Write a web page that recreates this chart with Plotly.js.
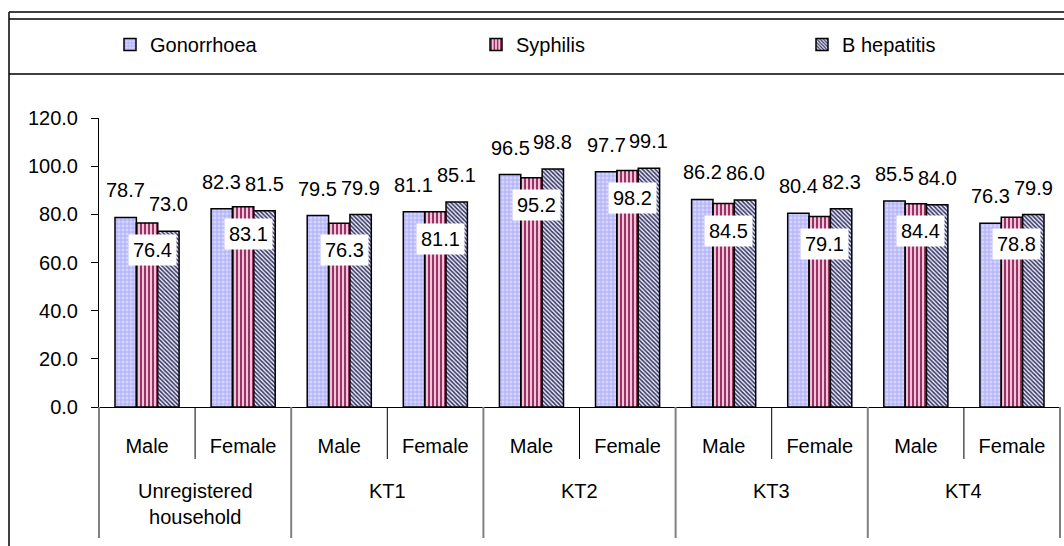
<!DOCTYPE html>
<html><head><meta charset="utf-8">
<script src="https://cdn.plot.ly/plotly-3.0.1.min.js"></script>
<style>html,body{margin:0;padding:0;background:#fff;} #chart{width:1064px;height:546px;}</style>
</head><body><div id="chart"></div>
<script>
// ---- data ----
const subLabels = ['Male','Female','Male','Female','Male','Female','Male','Female','Male','Female'];
const groupLabels = ['Unregistered<br>household','KT1','KT2','KT3','KT4'];
const seriesNames = ['Gonorrhoea','Syphilis','B hepatitis'];
const gonorrhoea = [78.7, 82.3, 79.5, 81.1, 96.5, 97.7, 86.2, 80.4, 85.5, 76.3];
const syphilis   = [76.4, 83.1, 76.3, 81.1, 95.2, 98.2, 84.5, 79.1, 84.4, 78.8];
const bHepatitis = [73.0, 81.5, 79.9, 85.1, 98.8, 99.1, 86.0, 82.3, 84.0, 79.9];
const yTickVals = [0, 20, 40, 60, 80, 100, 120];

// ---- layout geometry ----
const W = 1064, H = 546, ML = 99, MR = 4, MT = 118, MB = 139;
const PW = W - ML - MR, PH = H - MT - MB;
const px2x = px => (px - ML) / PW;
const py2y = py => (H - MB - py) / PH;
const FONT = 'Liberation Sans, Arial, sans-serif';
const bargap = 0.333;
const bw = (1 - bargap) / 3;

const seriesVals = [gonorrhoea, syphilis, bHepatitis];
const styles = [
  {bg: '#d4d4ff', fg: '#9c9cf4', shape: '+', size: 4, sol: 0.3},
  {bg: '#f0c4d8', fg: '#993366', shape: '|', size: 4, sol: 0.5},
  {bg: '#ececf4', fg: '#333366', shape: '\\', size: 3, sol: 0.5}
];
const xIdx = subLabels.map((_, i) => i);

const traces = seriesVals.map((vals, k) => ({
  type: 'bar', name: seriesNames[k], x: xIdx, y: vals,
  legend: k === 0 ? 'legend' : 'legend' + (k + 1),
  marker: {
    color: styles[k].bg,
    line: {color: '#000', width: 1.5},
    pattern: {shape: styles[k].shape, fgcolor: styles[k].fg, bgcolor: styles[k].bg,
              size: styles[k].size, solidity: styles[k].sol}
  },
  hoverinfo: 'skip'
}));

// ---- value labels ----
const annotations = [];
const offsets = [-bw, 0, bw];
seriesVals.forEach((vals, k) => {
  vals.forEach((v, i) => {
    if (k === 1) {
      annotations.push({x: i + offsets[k], y: v, xref: 'x', yref: 'y', text: v.toFixed(1),
        showarrow: false, yanchor: 'top', xanchor: 'center', yshift: -11, xshift: 5,
        bgcolor: '#ffffff', borderpad: 4, font: {size: 20, color: '#000', family: FONT}});
    } else {
      annotations.push({x: i + offsets[k], y: v, xref: 'x', yref: 'y', text: v.toFixed(1),
        showarrow: false, yanchor: 'bottom', xanchor: 'center', yshift: 14,
        font: {size: 20, color: '#000', family: FONT}});
    }
  });
});
// group labels
groupLabels.forEach((g, j) => {
  annotations.push({x: 2 * j + 0.5, y: 0, xref: 'x', yref: 'paper', text: g, showarrow: false,
    yanchor: 'top', xanchor: 'center', yshift: -71, align: 'center',
    font: {size: 20, color: '#000', family: FONT}});
});

// ---- shapes: frame and dividers ----
const shapes = [];
const hline = (py, w) => ({type: 'line', xref: 'paper', yref: 'paper',
  x0: px2x(9), x1: px2x(W + 2), y0: py2y(py), y1: py2y(py), line: {color: '#000', width: w}});
shapes.push(hline(12, 1.5), hline(19, 1.5), hline(74, 1.5));
shapes.push({type: 'line', xref: 'paper', yref: 'paper', x0: px2x(9), x1: px2x(9),
  y0: py2y(12), y1: py2y(H + 2), line: {color: '#000', width: 1.5}});
// sub-category separators
for (let i = 0; i < subLabels.length - 1; i += 2) {
  shapes.push({type: 'line', xref: 'x', yref: 'paper', x0: i + 0.5, x1: i + 0.5,
    y0: 0, y1: py2y(459), line: {color: '#000', width: 1}});
}
// group separators
for (let i = 1; i < subLabels.length - 1; i += 2) {
  shapes.push({type: 'line', xref: 'x', yref: 'paper', x0: i + 0.5, x1: i + 0.5,
    y0: 0, y1: py2y(538), line: {color: '#808080', width: 2}});
}
[0, 1].forEach(xp => shapes.push({type: 'line', xref: 'paper', yref: 'paper', x0: xp, x1: xp,
  y0: 0, y1: py2y(538), line: {color: '#808080', width: 2}}));

const legendBase = {orientation: 'h', xref: 'container', yref: 'container', xanchor: 'left',
  yanchor: 'middle', y: 1 - 44.5 / H, bgcolor: 'rgba(0,0,0,0)', borderwidth: 0,
  font: {size: 20, color: '#000', family: FONT}};

const layout = {
  width: W, height: H,
  margin: {l: ML, r: MR, t: MT, b: MB, pad: 0},
  paper_bgcolor: '#fff', plot_bgcolor: '#fff',
  font: {family: FONT, size: 20, color: '#000'},
  barmode: 'group', bargap: bargap, bargroupgap: 0,
  showlegend: true,
  legend: Object.assign({}, legendBase, {x: 110 / W}),
  legend2: Object.assign({}, legendBase, {x: 476 / W}),
  legend3: Object.assign({}, legendBase, {x: 802 / W}),
  xaxis: {range: [-0.5, 9.5], tickmode: 'array', tickvals: xIdx, ticktext: subLabels,
    ticks: '', showline: true, linecolor: '#000', linewidth: 1, showgrid: false, zeroline: false,
    ticklabelstandoff: 21, tickfont: {size: 20, family: FONT, color: '#000'}, fixedrange: true},
  yaxis: {range: [0, 120], tickmode: 'array', tickvals: yTickVals, tickformat: '.1f',
    ticks: 'outside', ticklen: 7, tickcolor: '#000', tickwidth: 1, showline: true, linecolor: '#000',
    linewidth: 1, showgrid: false, zeroline: false, ticklabelstandoff: 9,
    tickfont: {size: 20, family: FONT, color: '#000'}, fixedrange: true},
  annotations: annotations,
  shapes: shapes
};

Plotly.newPlot('chart', traces, layout, {displayModeBar: false, staticPlot: true});
</script>
</body></html>
